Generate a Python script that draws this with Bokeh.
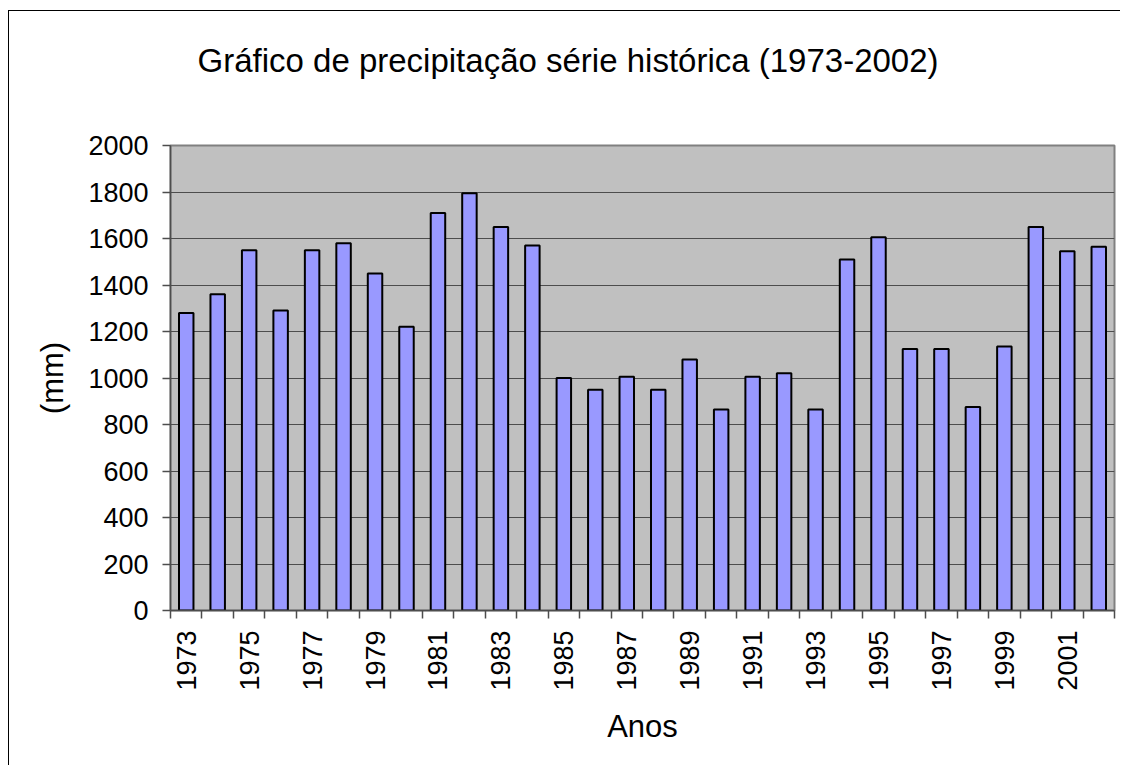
import math
from bokeh.plotting import figure
from bokeh.models import ColumnDataSource, FixedTicker, Range1d, Title
from bokeh.embed import file_html
from bokeh.resources import INLINE

# ---- data ----
years = list(range(1973, 2003))
precip_mm = [1280, 1360, 1550, 1290, 1550, 1580, 1450, 1220, 1710, 1795,
             1650, 1570, 1000, 950, 1005, 950, 1080, 865, 1005, 1020,
             865, 1510, 1605, 1125, 1125, 875, 1135, 1650, 1545, 1565]
x_tick_years = list(range(1973, 2002, 2))
y_ticks = list(range(0, 2001, 200))

title_text = "Gráfico de precipitação série histórica (1973-2002)"
x_label = "Anos"
y_label = "(mm)"

FONT = "Liberation Sans"

source = ColumnDataSource(dict(year=years, mm=precip_mm))

p = figure(width=1112, height=755, output_backend="svg", toolbar_location=None,
           x_range=Range1d(years[0] - 0.5, years[-1] + 0.5),
           y_range=Range1d(0, 2000),
           min_border_left=161, min_border_right=7,
           min_border_top=134, min_border_bottom=156)

p.margin = (11, 0, 0, 9)
p.styles = {"box-shadow": "-1px -1px 0px 0px black"}

p.background_fill_color = "#C0C0C0"
p.border_fill_color = "white"
p.outline_line_color = "#808080"
p.outline_line_width = 2

# spacer between title and plot area (nearest to the frame)
p.add_layout(Title(text=" ", text_font=FONT, text_font_size="10px", standoff=54), "above")
# main title (outermost)
p.add_layout(Title(text=title_text, text_font=FONT, text_font_size="33px",
                   text_font_style="normal", text_color="black",
                   align="left", vertical_align="bottom", offset=27, standoff=0), "above")

p.vbar(x="year", top="mm", source=source, width=0.46,
       fill_color="#9999FF", line_color="black", line_width=2)

# x axis
xa = p.xaxis[0]
boundaries = [y - 0.5 for y in years] + [years[-1] + 0.5]
xa.ticker = FixedTicker(ticks=x_tick_years, minor_ticks=boundaries)
xa.major_label_orientation = math.pi / 2
xa.major_tick_line_color = None
xa.major_tick_out = 0
xa.major_tick_in = 0
xa.minor_tick_line_color = "#4d4d4d"
xa.minor_tick_out = 8
xa.minor_tick_in = 0
xa.minor_tick_line_width = 1.5
xa.major_label_standoff = 12
xa.major_label_text_font = FONT
xa.major_label_text_font_size = "27px"
xa.major_label_text_color = "black"
xa.axis_line_color = "#4d4d4d"
xa.axis_line_width = 1.5
xa.axis_label = x_label
xa.axis_label_text_font = FONT
xa.axis_label_text_font_size = "31px"
xa.axis_label_text_font_style = "normal"
xa.axis_label_text_color = "black"
xa.axis_label_standoff = 15

# y axis
ya = p.yaxis[0]
ya.ticker = FixedTicker(ticks=y_ticks)
ya.minor_tick_line_color = None
ya.major_tick_line_color = "#4d4d4d"
ya.major_tick_line_width = 1.5
ya.major_tick_out = 8
ya.major_tick_in = 0
ya.major_label_standoff = 14
ya.major_label_text_font = FONT
ya.major_label_text_font_size = "27px"
ya.major_label_text_color = "black"
ya.axis_line_color = "#4d4d4d"
ya.axis_line_width = 1.5
ya.axis_label = y_label
ya.axis_label_text_font = FONT
ya.axis_label_text_font_size = "31px"
ya.axis_label_text_font_style = "normal"
ya.axis_label_text_color = "black"
ya.axis_label_standoff = 15

# grid
p.xgrid.grid_line_color = None
p.ygrid.grid_line_color = "#4d4d4d"
p.ygrid.grid_line_width = 1
p.ygrid.ticker = FixedTicker(ticks=y_ticks)

open("out.html", "w").write(file_html(p, INLINE))
